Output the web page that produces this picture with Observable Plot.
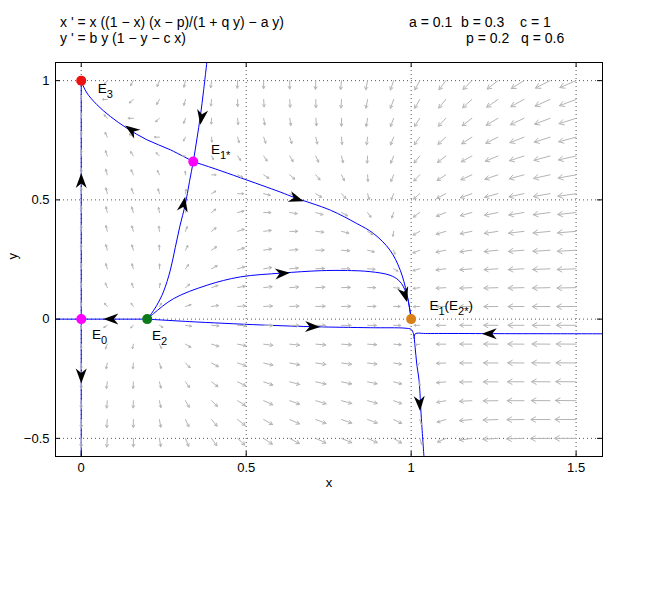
<!DOCTYPE html>
<html><head><meta charset="utf-8">
<script src="https://cdn.jsdelivr.net/npm/d3@7"></script>
<script src="https://cdn.jsdelivr.net/npm/@observablehq/plot@0.6"></script>
<style>
body{margin:0;background:#fff;font-family:"Liberation Sans",Arial,sans-serif;}
#wrap{position:relative;width:663px;}
#head{position:relative;height:52px;font-size:14px;color:#000;}
#head span{position:absolute;white-space:pre;line-height:14px;}
</style></head><body>
<div id="wrap"><div id="head"></div><div id="chart"></div></div>
<script>
// model parameters (shown in the header)
const a = 0.1, b = 0.3, c = 1, p = 0.2, q = 0.6;
const equationLines = ["x ' = x ((1 \u2212 x) (x \u2212 p)/(1 + q y) \u2212 a y)", "y ' = b y (1 \u2212 y \u2212 c x)"];
const paramLine1 = ["a = 0.1", "b = 0.3", "c = 1"];
const paramLine2 = ["p = 0.2", "q = 0.6"];

const xTicks = [0, 0.5, 1, 1.5];
const yTicks = [-0.5, 0, 0.5, 1];
const xDomain = [-0.078, 1.58];
const yDomain = [-0.576, 1.076];

// quiver sample lattice
const gridXs = [0,0.079,0.158,0.237,0.316,0.395,0.474,0.553,0.632,0.711,0.789,0.868,0.947,1.026,1.105,1.184,1.263,1.342,1.421,1.5];
const gridYs = [-0.5,-0.421,-0.342,-0.263,-0.184,-0.105,-0.026,0.053,0.132,0.211,0.289,0.368,0.447,0.526,0.605,0.684,0.763,0.842,0.921,1];

// equilibria
const equilibria = [
  {name: "E3", x: 0, y: 1, color: "#ee1111"},
  {name: "E1*", x: 0.3396, y: 0.6604, color: "#ff00ff"},
  {name: "E0", x: 0, y: 0, color: "#ff00ff"},
  {name: "E2", x: 0.2, y: 0, color: "#0a7a1a"},
  {name: "E1", x: 1, y: 0, color: "#d98019"}
];

// trajectories
const trajAxisY = [[0,-0.58],[0,1]];
const trajAxisX = [[-0.08,0],[0.2,0]];
const trajStable = [[0.2,0],[0.209,0.0156],[0.229,0.058],[0.249,0.114],[0.270,0.205],[0.285,0.300],[0.299,0.390],[0.315,0.478],[0.328,0.576],[0.3396,0.6604],[0.351,0.759],[0.361,0.850],[0.371,0.960],[0.381,1.08]];
const trajToE3 = [[0.3396,0.6604],[0.270,0.710],[0.199,0.752],[0.138,0.801],[0.088,0.850],[0.0476,0.899],[0.0173,0.948],[0.006,0.978],[0,1]];
const trajToE1 = [[0.3396,0.6604],[0.406,0.630],[0.482,0.593],[0.603,0.533],[0.648,0.509],[0.755,0.457],[0.835,0.401],[0.886,0.359],[0.936,0.289],[0.967,0.205],[0.987,0.107],[1,0]];
const trajUpper = [[0.2,0],[0.219,0.023],[0.280,0.086],[0.381,0.142],[0.482,0.177],[0.608,0.193],[0.724,0.203],[0.800,0.204],[0.876,0.199],[0.936,0.184],[0.962,0.163],[0.977,0.135],[0.987,0.10],[0.995,0.05],[1,0]];
const trajLower = [[0.2,0],[0.35,-0.012],[0.573,-0.026],[0.709,-0.032],[0.876,-0.036],[0.982,-0.038],[1.0,-0.043],[1.007,-0.061],[1.012,-0.118],[1.017,-0.188],[1.024,-0.258],[1.031,-0.418],[1.039,-0.58]];
const trajRight = [[1.58,-0.0615],[1.3,-0.061],[1.05,-0.0605],[1.012,-0.062],[1.009,-0.08]];
const trajectories = [trajAxisY, trajAxisX, trajStable, trajToE3, trajToE1, trajUpper, trajLower, trajRight];

// direction arrowheads on the trajectories: tip x, tip y, direction dx, dy
const flowArrows = [
  [0, 0.613, 0, 1], [0, -0.27, 0, -1], [0.067, 0, -1, 0],
  [0.133, 0.812, -1, 0.98], [0.361, 0.815, -1, -9], [0.315, 0.513, 1, 7],
  [0.674, 0.494, 1, -0.47], [0.987, 0.072, 0.2, -1], [0.633, 0.194, 1, 0.1],
  [0.724, -0.033, 1, -0.04], [1.214, -0.061, -1, 0], [1.027, -0.385, 0.04, -1]
];

// ---------- layout ----------
const W = 663, H = 541, mt = 10, ml = 55, mr = 61, mb = 137;
const kx = (W - ml - mr) / (xDomain[1] - xDomain[0]);
const ky = (H - mt - mb) / (yDomain[1] - yDomain[0]);
const fw = W - ml - mr, fh = H - mt - mb;

// header
const head = document.getElementById("head");
function addSpan(txt, left, top) { const s = document.createElement("span"); s.textContent = txt; s.style.left = left + "px"; s.style.top = top + "px"; head.appendChild(s); }
addSpan(equationLines[0], 60, 15);
addSpan(equationLines[1], 60, 31);
[409, 461, 520].forEach((l, i) => addSpan(paramLine1[i], l, 15));
[466, 521].forEach((l, i) => addSpan(paramLine2[i], l, 31));

// direction field from the model shown in the header
function field(x, y) {
  return [x * ((1 - x) * (x - p) / (1 + q * y) - a * y), b * y * (1 - y - c * x)];
}
const quiver = [];
for (const x of gridXs) for (const y of gridYs) {
  const [u, v] = field(x, y);
  const m = Math.hypot(u, v);
  if (m < 1e-9) continue;
  const len = 0.062 * Math.pow(m / 1.14, 0.32);
  quiver.push({x1: x, y1: y, x2: x + len * u / m, y2: y + len * v / m});
}

const heads = flowArrows.map(([x, y, dx, dy]) => ({x, y, rot: Math.atan2(dx * kx, dy * ky) * 180 / Math.PI}));
const headShape = {draw(ctx, l, r) { ctx.moveTo(0, -l); ctx.lineTo(r, 0); ctx.lineTo(0, -l * 0.3); ctx.lineTo(-r, 0); ctx.closePath(); }};

const minus = (d) => (d < 0 ? "\u2212" + Math.abs(d) : String(d));

const labelMark = (name, txt, dx, dy) => Plot.text(equilibria.filter(d => d.name === name), {x: "x", y: "y", text: () => txt, dx, dy, textAnchor: "start", lineAnchor: "bottom", fontSize: 13.5});

const chart = Plot.plot({
  width: W, height: H, marginTop: mt, marginLeft: ml, marginRight: mr, marginBottom: mb,
  style: {fontFamily: "Liberation Sans, Arial, sans-serif", fontSize: "13px", color: "black", background: "white"},
  x: {domain: xDomain},
  y: {domain: yDomain},
  marks: [
    Plot.ruleX(xTicks, {stroke: "#555", strokeDasharray: "1,3"}),
    Plot.ruleY(yTicks, {stroke: "#555", strokeDasharray: "1,3"}),
    ...trajectories.map(t => Plot.line(t, {x: d => d[0], y: d => d[1], stroke: "#0000ff", strokeWidth: 1, curve: "catmull-rom", clip: true})),
    Plot.arrow(quiver, {x1: "x1", y1: "y1", x2: "x2", y2: "y2", stroke: "#b4b4b4", strokeWidth: 1, headLength: 8, headAngle: 60}),
    Plot.vector(heads, {x: "x", y: "y", rotate: "rot", length: 15, r: 5.5, anchor: "end", shape: headShape, fill: "black", stroke: "none"}),
    Plot.dot(equilibria, {x: "x", y: "y", r: 5, fill: "color", stroke: "none"}),
    labelMark("E3", "E_{3}", 16.5, 12),
    labelMark("E1*", "E_{1*}", 17.7, -7.4),
    labelMark("E0", "E_{0}", 10.7, 19.6),
    labelMark("E2", "E_{2}", 4.7, 20.6),
    labelMark("E1", "E_{1}(E_{2*})", 18.3, -8.7),
    Plot.frame({stroke: "black"}),
    Plot.tickX(xTicks, {x: d => d, insetBottom: fh - 5, stroke: "black"}),
    Plot.tickX(xTicks, {x: d => d, insetTop: fh - 5, stroke: "black"}),
    Plot.tickY(yTicks, {y: d => d, insetRight: fw - 5, stroke: "black"}),
    Plot.tickY(yTicks, {y: d => d, insetLeft: fw - 5, stroke: "black"}),
    Plot.axisX({ticks: xTicks, tickSize: 0, tickPadding: 6, tickFormat: minus, label: null, fontSize: 13}),
    Plot.axisY({ticks: yTicks, tickSize: 0, tickPadding: 6, tickFormat: minus, label: null, fontSize: 13}),
    Plot.text(["x"], {frameAnchor: "bottom", dy: 30, text: d => d, fontSize: 13}),
    Plot.text(["y"], {frameAnchor: "left", dx: -43, text: d => d, rotate: -90, fontSize: 13})
  ]
});
document.getElementById("chart").appendChild(chart);

// render subscripts as tspans
d3.select(chart).selectAll("text").filter(function () { return this.textContent.includes("_{"); }).each(function () {
  const t = this.textContent;
  const el = d3.select(this);
  el.text(null);
  const parts = t.split(/(_\{[^}]*\})/).filter(s => s.length);
  let lowered = false;
  for (const part of parts) {
    if (part.startsWith("_{")) {
      el.append("tspan").attr("dy", 5).attr("font-size", 11).text(part.slice(2, -1));
      lowered = true;
    } else {
      const ts = el.append("tspan").text(part);
      if (lowered) { ts.attr("dy", -5); lowered = false; }
    }
  }
});
</script>
</body></html>
